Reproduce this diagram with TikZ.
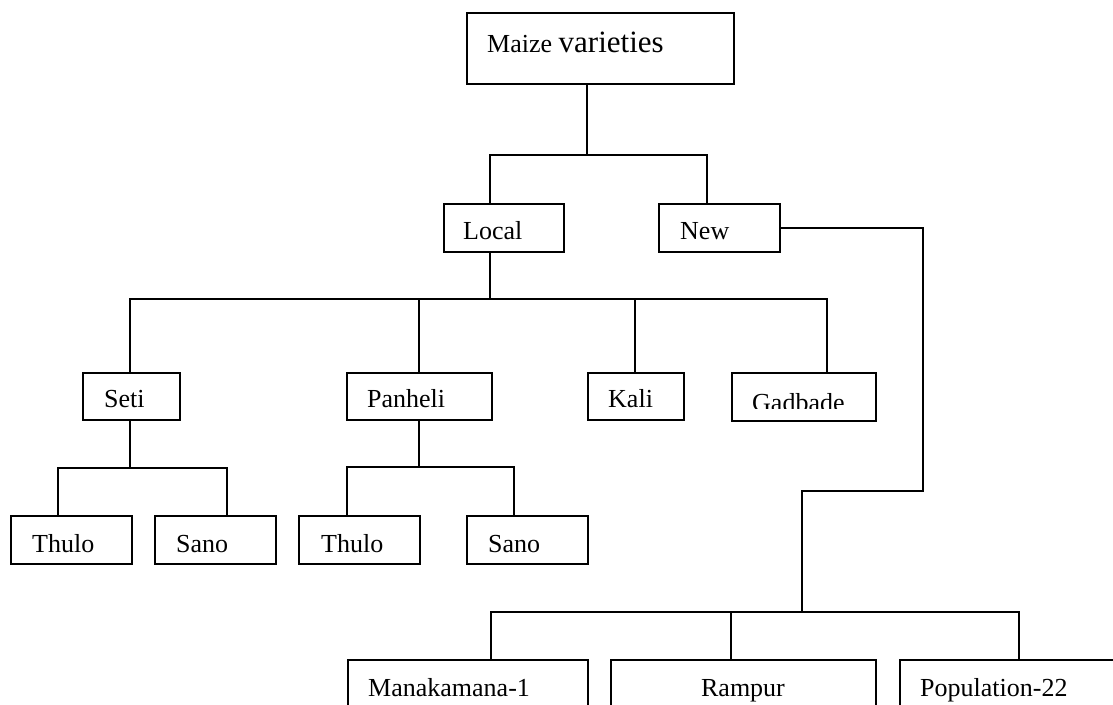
\documentclass[tikz,border=0pt]{standalone}
\usepackage{fontspec}
\setmainfont{Liberation Serif}
\begin{document}
\begin{tikzpicture}[x=1pt,y=-1pt,
  box/.style={draw, line width=1.5pt, rectangle, inner sep=0pt, anchor=north west},
  txt/.style={anchor=base west, inner sep=0pt, font=\fontsize{26}{30}\selectfont},
  conn/.style={line width=1.5pt}]
\useasboundingbox (0,0) rectangle (1113,704);
\clip (0,0) rectangle (1113,704);
% boxes
\node[box, minimum width=267pt, minimum height=71pt] (maize) at (466,12) {};
\node[box, minimum width=120pt, minimum height=48pt] (local) at (443,203) {};
\node[box, minimum width=121pt, minimum height=48pt] (new) at (658,203) {};
\node[box, minimum width=97pt, minimum height=47pt] (seti) at (82,372) {};
\node[box, minimum width=145pt, minimum height=47pt] (panheli) at (346,372) {};
\node[box, minimum width=96pt, minimum height=47pt] (kali) at (587,372) {};
\node[box, minimum width=144pt, minimum height=48pt] (gadbade) at (731,372) {};
\node[box, minimum width=121pt, minimum height=48pt] (thuloA) at (10,515) {};
\node[box, minimum width=121pt, minimum height=48pt] (sanoA) at (154,515) {};
\node[box, minimum width=121pt, minimum height=48pt] (thuloB) at (298,515) {};
\node[box, minimum width=121pt, minimum height=48pt] (sanoB) at (466,515) {};
\node[box, minimum width=240pt, minimum height=70pt] (mana) at (347,659) {};
\node[box, minimum width=265pt, minimum height=70pt] (rampur) at (610,659) {};
\node[box, minimum width=240pt, minimum height=70pt] (pop) at (899,659) {};
% texts
\node[txt] (tmaize) at (487,52) {{\fontsize{26}{30}\selectfont Maize} {\fontsize{31}{36}\selectfont varieties}};
\node[txt] (tlocal) at (463,239) {Local};
\node[txt] (tnew) at (680,239) {New};
\node[txt] (tseti) at (104,407) {Seti};
\node[txt] (tpanheli) at (367,407) {Panheli};
\node[txt] (tkali) at (608,407) {Kali};
\begin{scope}
\clip (731,372) rectangle (875,408);
\node[txt] (tgad) at (752,411) {Gadbade};
\end{scope}
\node[txt] (tthuloA) at (32,552) {Thulo};
\node[txt] (tsanoA) at (176,552) {Sano};
\node[txt] (tthuloB) at (321,552) {Thulo};
\node[txt] (tsanoB) at (488,552) {Sano};
\node[txt] (tmana) at (368,696) {Manakamana-1};
\node[txt, anchor=base] (tramp) at (743,696) {Rampur};
\node[txt] (tpop) at (920,696) {Population-22};
% bus coordinates
\coordinate (b1) at (587,155);
\coordinate (b2) at (490,299);
\coordinate (b3) at (130,468);
\coordinate (b4) at (419,467);
\coordinate (b5) at (802,612);
\coordinate (n1) at (923,491);
% connectors
\draw[conn] (maize.south -| b1) -- (b1);
\draw[conn] (local.north -| 490,0) |- (b1) -| (new.north -| 707,0);
\draw[conn] (local.south -| b2) -- (b2);
\draw[conn] (seti.north -| 130,0) |- (b2) -| (gadbade.north -| 827,0);
\draw[conn] (panheli.north -| 419,0) -- (419,0 |- b2);
\draw[conn] (kali.north -| 635,0) -- (635,0 |- b2);
\draw[conn] (seti.south -| b3) -- (b3);
\draw[conn] (thuloA.north -| 58,0) |- (b3) -| (sanoA.north -| 227,0);
\draw[conn] (panheli.south -| b4) -- (b4);
\draw[conn] (thuloB.north -| 347,0) |- (b4) -| (sanoB.north -| 514,0);
\draw[conn] (new.east) -| (n1) -| (b5);
\draw[conn] (mana.north -| 491,0) |- (b5) -| (pop.north -| 1019,0);
\draw[conn] (rampur.north -| 731,0) -- (731,0 |- b5);
\end{tikzpicture}
\end{document}
